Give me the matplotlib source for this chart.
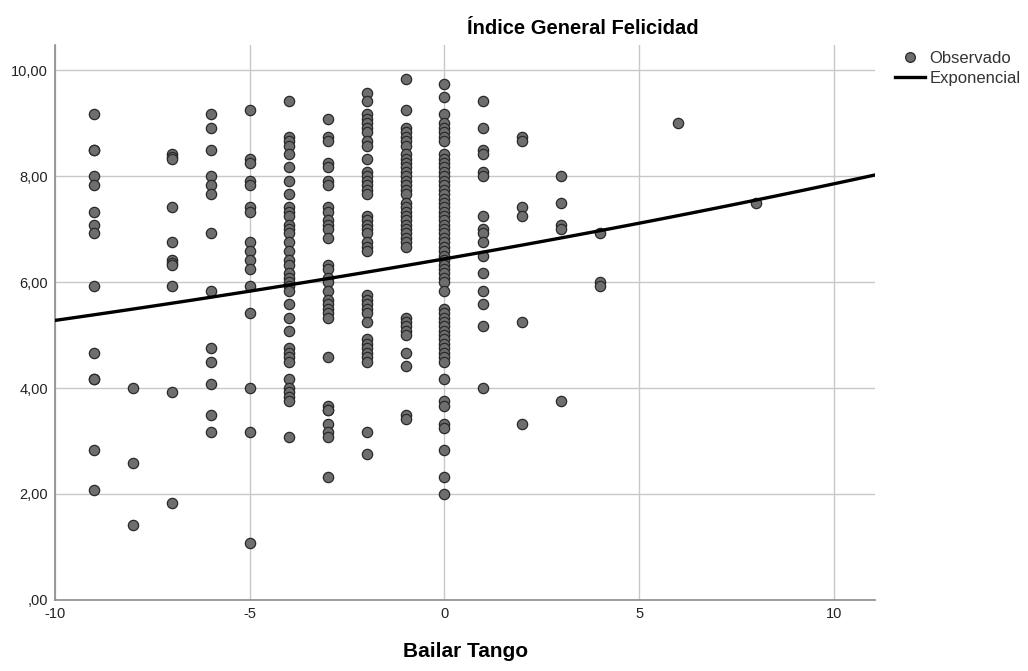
import matplotlib
matplotlib.use('agg')
import matplotlib.pyplot as plt
from matplotlib.lines import Line2D
import numpy as np

# observed values per "Bailar Tango" score
obs = {
    -9: [9.17, 8.5, 8.5, 8.0, 7.83, 7.33, 7.08, 6.92, 5.92, 4.67, 4.17, 4.17, 2.83, 2.08],
    -8: [4.0, 2.58, 1.42],
    -7: [8.42, 8.36, 8.33, 7.42, 6.75, 6.42, 6.36, 6.33, 5.92, 3.92, 1.83],
    -6: [9.17, 8.92, 8.5, 8.0, 7.83, 7.67, 6.92, 5.83, 4.75, 4.5, 4.08, 3.5, 3.17],
    -5: [9.25, 8.33, 8.25, 7.92, 7.83, 7.42, 7.33, 6.75, 6.58, 6.42, 6.25, 5.92,
         5.42, 4.0, 3.17, 1.08],
    -4: [9.42, 8.75, 8.67, 8.58, 8.42, 8.17, 7.92, 7.67, 7.42, 7.33, 7.25, 7.08,
         7.0, 6.92, 6.75, 6.58, 6.42, 6.33, 6.17, 6.08, 6.0, 5.92, 5.83, 5.58,
         5.33, 5.08, 4.75, 4.67, 4.58, 4.5, 4.17, 4.0, 3.92, 3.83, 3.75, 3.08],
    -3: [9.08, 8.75, 8.67, 8.25, 8.17, 7.92, 7.83, 7.42, 7.33, 7.17, 7.08, 7.0,
         6.83, 6.33, 6.25, 6.08, 6.0, 5.83, 5.67, 5.58, 5.5, 5.42, 5.33, 4.58,
         3.67, 3.58, 3.58, 3.33, 3.17, 3.08, 2.33],
    -2: [9.58, 9.42, 9.17, 9.08, 9.0, 8.92, 8.83, 8.67, 8.58, 8.33, 8.08, 8.0,
         7.92, 7.83, 7.75, 7.67, 7.25, 7.17, 7.08, 7.0, 6.92, 6.75, 6.67, 6.58,
         5.75, 5.67, 5.58, 5.5, 5.42, 5.25, 4.92, 4.83, 4.75, 4.67, 4.58, 4.5,
         3.17, 2.75],
    -1: [9.83, 9.25, 8.92, 8.83, 8.75, 8.67, 8.58, 8.42, 8.33, 8.25, 8.17, 8.08,
         8.0, 7.92, 7.83, 7.75, 7.67, 7.5, 7.42, 7.33, 7.25, 7.17, 7.08, 7.0,
         6.92, 6.83, 6.75, 6.67, 5.33, 5.25, 5.17, 5.08, 5.0, 4.67, 4.42, 3.5, 3.42],
    0: [9.75, 9.5, 9.17, 9.0, 8.92, 8.83, 8.75, 8.67, 8.42, 8.33, 8.25, 8.17,
        8.08, 8.0, 7.92, 7.83, 7.75, 7.67, 7.58, 7.5, 7.42, 7.33, 7.25, 7.17,
        7.08, 7.0, 6.92, 6.83, 6.75, 6.67, 6.58, 6.5, 6.42, 6.33, 6.25, 6.17,
        6.08, 6.0, 5.83, 5.5, 5.42, 5.33, 5.25, 5.17, 5.08, 5.0, 4.92, 4.83,
        4.75, 4.67, 4.58, 4.5, 4.17, 3.75, 3.67, 3.33, 3.25, 2.83, 2.33, 2.0],
    1: [9.42, 8.92, 8.5, 8.42, 8.08, 8.0, 7.25, 7.0, 6.92, 6.75, 6.5, 6.17,
        5.83, 5.58, 5.17, 4.0],
    2: [8.75, 8.67, 7.42, 7.25, 5.25, 3.33],
    3: [8.0, 7.5, 7.08, 7.0, 3.75],
    4: [6.92, 6.0, 5.92],
    6: [9.0],
    8: [7.5],
}

# exponential fit y = a * exp(b * x)
exp_a = 6.44
exp_b = 0.0199

xticks_v = [-10, -5, 0, 5, 10]
yticks_v = [0, 2, 4, 6, 8, 10]
ytick_lbl = [",00", "2,00", "4,00", "6,00", "8,00", "10,00"]

xs = []
ys = []
for k in obs:
    for v in obs[k]:
        xs.append(k)
        ys.append(v)

plt.rcParams['font.family'] = ['Liberation Sans', 'DejaVu Sans']
plt.rcParams['axes.unicode_minus'] = False

fig = plt.figure(figsize=(10.28, 6.71), dpi=100)
ax = fig.add_axes([0.0535, 0.106, 0.7975, 0.827])

ax.grid(True, color='#c8c8c8', lw=1)
ax.set_axisbelow(True)

ax.scatter(xs, ys, s=55, facecolor='#6e6e6e', edgecolor='#2a2a2a', lw=0.9, zorder=3)

xx = np.linspace(-10, 11.05, 100)
ax.plot(xx, exp_a * np.exp(exp_b * xx), color='black', lw=2.4, zorder=4)

ax.set_xlim(-10, 11.05)
ax.set_ylim(0, 10.48)
ax.set_xticks(xticks_v)
ax.set_yticks(yticks_v)
ax.set_yticklabels(ytick_lbl)
ax.tick_params(labelsize=10.5, length=0, colors='#222222', pad=5)

for s in ['top', 'right']:
    ax.spines[s].set_visible(False)
for s in ['left', 'bottom']:
    ax.spines[s].set_color('#8c8c8c')
    ax.spines[s].set_linewidth(1.2)

fig.text(0.567, 0.958, "Índice General Felicidad", fontsize=14.5, fontweight='bold',
         ha='center', va='center')
fig.text(0.453, 0.015, "Bailar Tango", fontsize=15, fontweight='bold',
         ha='center', va='bottom')

handles = [
    Line2D([], [], ls='none', marker='o', markersize=7, markerfacecolor='#6e6e6e',
           markeredgecolor='#2a2a2a', markeredgewidth=0.9),
    Line2D([], [], color='black', lw=2.4),
]
fig.legend(handles, ["Observado", "Exponencial"], loc='upper left',
           bbox_to_anchor=(0.863, 0.936), frameon=False, fontsize=12,
           labelcolor='#333333', handlelength=1.8, handletextpad=0.25,
           labelspacing=0.3, borderpad=0)

fig.savefig("out.png", dpi=100)
